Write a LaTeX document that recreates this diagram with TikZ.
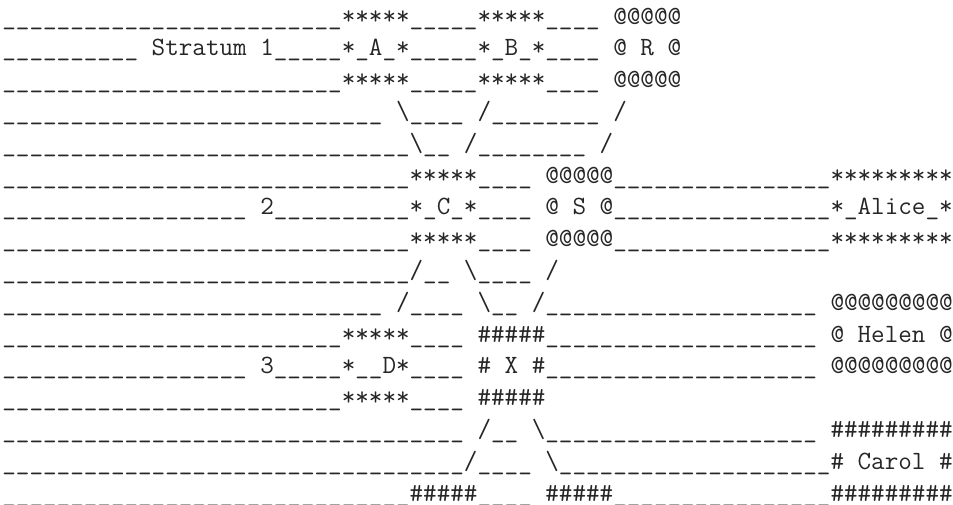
\documentclass[tikz,border=0pt]{standalone}
\usepackage{xcolor}
\ExplSyntaxOn
\NewDocumentCommand{\usc}{m}{\prg_replicate:nn{#1}{\textunderscore}}
\ExplSyntaxOff

\begin{document}
\begin{tikzpicture}[x=0.5pt, y=-0.5pt, every node/.style={font=\fontsize{13.18pt}{15pt}\selectfont\ttfamily},
  asciirow/.style={anchor=base west, inner sep=0pt, text=black!85}]
  \useasboundingbox (0,0) rectangle (953,504);
  \node[asciirow] (row01) at (2,24.0)  {\usc{25}*****\usc{5}*****\usc{4} @@@@@};
  \node[asciirow] (row02) at (2,55.8)  {\usc{10} Stratum 1\usc{5}*\_A\_*\usc{5}*\_B\_*\usc{4} @ R @};
  \node[asciirow] (row03) at (2,87.6)  {\usc{25}*****\usc{5}*****\usc{4} @@@@@};
  \node[asciirow] (row04) at (2,119.4) {\usc{28} \textbackslash\usc{4} /\usc{8} /};
  \node[asciirow] (row05) at (2,151.2) {\usc{30}\textbackslash\usc{2} /\usc{8} /};
  \node[asciirow] (row06) at (2,183.0) {\usc{30}*****\usc{4} @@@@@\usc{16}*********};
  \node[asciirow] (row07) at (2,214.8) {\usc{18} 2\usc{10}*\_C\_*\usc{4} @ S @\usc{16}*\_Alice\_*};
  \node[asciirow] (row08) at (2,246.6) {\usc{30}*****\usc{4} @@@@@\usc{16}*********};
  \node[asciirow] (row09) at (2,278.4) {\usc{30}/\usc{2} \textbackslash\usc{4} /};
  \node[asciirow] (row10) at (2,310.2) {\usc{28} /\usc{4} \textbackslash\usc{2} /\usc{20} @@@@@@@@@};
  \node[asciirow] (row11) at (2,342.0) {\usc{25}*****\usc{4} \#\#\#\#\#\usc{20} @ Helen @};
  \node[asciirow] (row12) at (2,373.8) {\usc{18} 3\usc{5}*\usc{2}D*\usc{4} \# X \#\usc{20} @@@@@@@@@};
  \node[asciirow] (row13) at (2,405.6) {\usc{25}*****\usc{4} \#\#\#\#\#};
  \node[asciirow] (row14) at (2,437.4) {\usc{34} /\usc{2} \textbackslash\usc{20} \#\#\#\#\#\#\#\#\#};
  \node[asciirow] (row15) at (2,469.2) {\usc{34}/\usc{4} \textbackslash\usc{20}\# Carol \#};
  \node[asciirow] (row16) at (2,501.0) {\usc{30}\#\#\#\#\#\usc{4} \#\#\#\#\#\usc{16}\#\#\#\#\#\#\#\#\#};
\end{tikzpicture}
\end{document}
